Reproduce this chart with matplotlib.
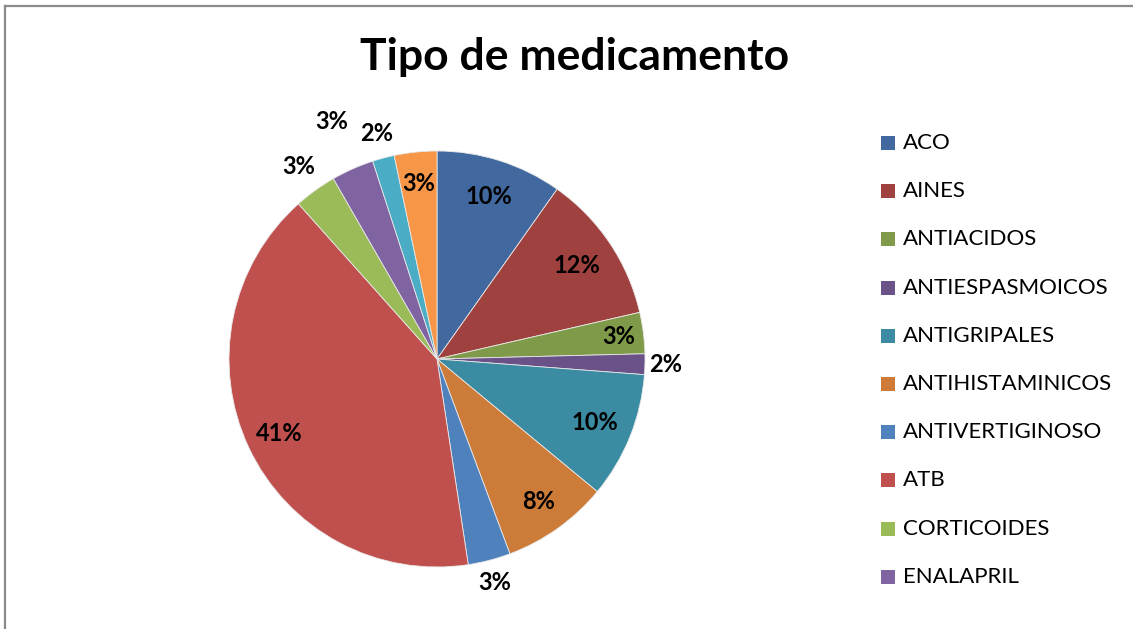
import matplotlib
matplotlib.use("Agg")
import matplotlib.pyplot as plt
from matplotlib.patches import Rectangle
from matplotlib.lines import Line2D
import numpy as np

# ---- data ----
categories = ["ACO", "AINES", "ANTIACIDOS", "ANTIESPASMOICOS", "ANTIGRIPALES",
              "ANTIHISTAMINICOS", "ANTIVERTIGINOSO", "ATB", "CORTICOIDES",
              "ENALAPRIL", "OTROS 1", "OTROS 2"]
percentages = [9.8, 11.6, 3.2, 1.6, 9.8, 8.3, 3.3, 40.8, 3.3, 3.3, 1.7, 3.3]
legend_shown = 10
title = "Tipo de medicamento"

# ---- styles ----
colors = ["#41699F", "#9F413E", "#7F9A48", "#6A5289", "#3B8BA3", "#CC7B38",
          "#4F81BD", "#C0504D", "#9BBB59", "#8064A2", "#4BACC6", "#F79646"]
label_radius = [0.82, 0.81, 0.88, 1.10, 0.82, 0.84, 1.11, 0.84, 1.14, 1.25, 1.12, 0.85]

W, H = 1133, 629
fig = plt.figure(figsize=(W / 100, H / 100), dpi=100)
ax = fig.add_axes([0, 0, 1, 1])

font = "Lato"
cx, cy, R = 437, H - 359, 208

wedges, _ = ax.pie(percentages, colors=colors, startangle=90, counterclock=False,
                   center=(cx, cy), radius=R, frame=True,
                   wedgeprops=dict(edgecolor="#e8e8e8", linewidth=0.6))
ax.set_xlim(0, W)
ax.set_ylim(0, H)
ax.set_aspect("equal")
ax.axis("off")

total = sum(percentages)
for w, v, rf in zip(wedges, percentages, label_radius):
    ang = np.deg2rad((w.theta1 + w.theta2) / 2)
    x = cx + rf * R * np.cos(ang)
    y = cy + rf * R * np.sin(ang)
    ax.text(x, y, f"{round(100 * v / total):.0f}%", ha="center", va="center",
            fontsize=17, fontweight="bold", family=font, color="black")

# title
ax.text(575, H - 57, title, ha="center", va="center", fontsize=32,
        fontweight="bold", family=font, color="black")

# legend (manual)
for i in range(legend_shown):
    yy = H - (143 + 48.2 * i)
    ax.add_patch(Rectangle((881, yy - 7), 14, 14, facecolor=colors[i],
                           edgecolor="none"))
    ax.text(903, yy, categories[i], ha="left", va="center", fontsize=16,
            family=font, color="black")

# chart border (top and left visible)
fig.add_artist(Line2D([5.5 / W, 1], [1 - 5.5 / H, 1 - 5.5 / H],
                      transform=fig.transFigure, color="#8a8a8a", lw=1.6))
fig.add_artist(Line2D([5.5 / W, 5.5 / W], [0, 1 - 5.5 / H],
                      transform=fig.transFigure, color="#8a8a8a", lw=1.6))

fig.savefig("out.png", dpi=100, facecolor="white")
